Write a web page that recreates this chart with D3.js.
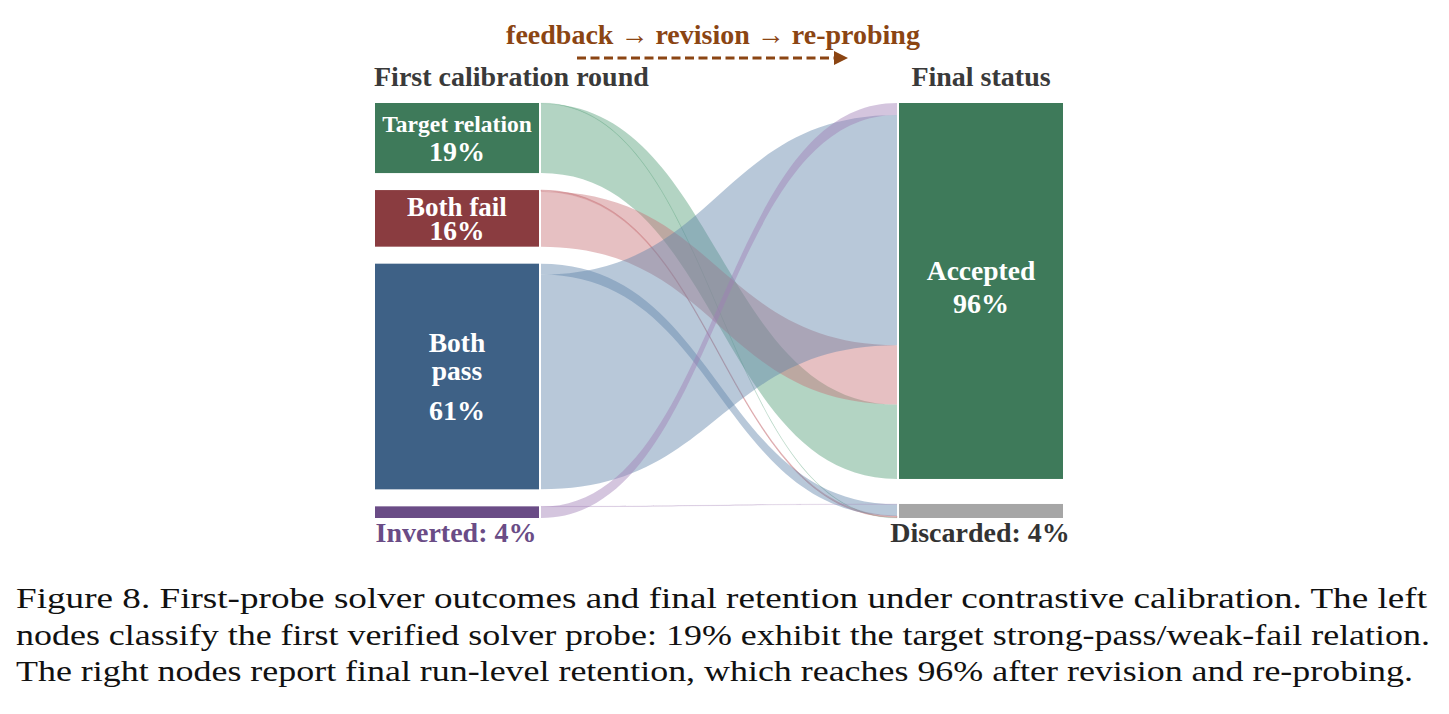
<!DOCTYPE html>
<html>
<head>
<meta charset="utf-8">
<script src="https://cdn.jsdelivr.net/npm/d3@7"></script>
<style>
  html, body { margin: 0; padding: 0; background: #fff; }
  svg { display: block; }
</style>
</head>
<body>
<svg id="chart" width="1449" height="714"></svg>
<script>
// ---------------- data ----------------
const leftNodes = ["Target relation", "Both fail", "Both pass", "Inverted"];
const leftPct = ["19%", "16%", "61%", "4%"];
const rightNodes = ["Accepted", "Discarded"];
const rightPct = ["96%", "4%"];
// flow values (percent of runs) from each left node
const toAccepted = [19.1, 15.2, 59.0, 3.1];
const toDiscarded = [0.15, 0.35, 3.0, 0.1];
const flowTitle = "feedback \u2192 revision \u2192 re-probing";
const leftTitle = "First calibration round";
const rightTitle = "Final status";
const captionLines = [
  "Figure 8. First-probe solver outcomes and final retention under contrastive calibration. The left",
  "nodes classify the first verified solver probe: 19% exhibit the target strong-pass/weak-fail relation.",
  "The right nodes report final run-level retention, which reaches 96% after revision and re-probing."
];

// ---------------- styles ----------------
const nodeColors = ["#3e7a5a", "#8a3c40", "#3e6186", "#6a4c86"];
const linkColors = ["#569f7a", "#c77377", "#6185ab", "#9f7eb6"];
const rightColors = ["#3e7a5a", "#a6a6a6"];
const serif = "'Liberation Serif', 'Times New Roman', Times, serif";

const svg = d3.select("#chart");

const yTop = 103, yBottom = 518;
const padL = 17, padR = 25;
const lx0 = 375, lx1 = 539, rx0 = 899, rx1 = 1063;
const linkX0 = 541, linkX1 = 897;

const leftTotals = leftNodes.map((_, i) => toAccepted[i] + toDiscarded[i]);
const rightTotals = [d3.sum(toAccepted), d3.sum(toDiscarded)];

const kL = d3.scaleLinear().domain([0, d3.sum(leftTotals)])
  .range([0, (yBottom - yTop) - padL * (leftNodes.length - 1)]);
const kR = d3.scaleLinear().domain([0, d3.sum(rightTotals)])
  .range([0, (yBottom - yTop) - padR * (rightNodes.length - 1)]);

// node positions
const leftPos = [];
let yy = yTop;
leftTotals.forEach((v) => {
  const h = kL(v);
  leftPos.push({ y0: yy, y1: yy + h });
  yy += h + padL;
});
const rightPos = [];
yy = yTop;
rightTotals.forEach((v) => {
  const h = kR(v);
  rightPos.push({ y0: yy, y1: yy + h });
  yy += h + padR;
});

// links: at source, discarded link sits on top then accepted
const links = [];
leftNodes.forEach((_, i) => {
  let sy = leftPos[i].y0;
  const dH = kL(toDiscarded[i]);
  links.push({ s: i, t: 1, v: toDiscarded[i], sy0: sy, sy1: sy + dH });
  sy += dH;
  links.push({ s: i, t: 0, v: toAccepted[i], sy0: sy, sy1: sy + kL(toAccepted[i]) });
});
// at target: order inverted, both pass, both fail, target relation
[0, 1].forEach(t => {
  let ty = rightPos[t].y0;
  [3, 2, 1, 0].forEach(s => {
    const l = links.find(d => d.s === s && d.t === t);
    const h = kR(l.v);
    l.ty0 = ty; l.ty1 = ty + h;
    ty += h;
  });
});

function linkPath(l) {
  const xm = (linkX0 + linkX1) / 2;
  const p = d3.path();
  p.moveTo(linkX0, l.sy0);
  p.bezierCurveTo(xm, l.sy0, xm, l.ty0, linkX1, l.ty0);
  p.lineTo(linkX1, l.ty1);
  p.bezierCurveTo(xm, l.ty1, xm, l.sy1, linkX0, l.sy1);
  p.closePath();
  return p.toString();
}

svg.append("g").selectAll("path").data(links).join("path")
  .attr("d", linkPath)
  .attr("fill", d => linkColors[d.s])
  .attr("fill-opacity", 0.45)
  .attr("stroke", d => linkColors[d.s])
  .attr("stroke-opacity", d => d.v < 1 ? (d.s === 1 ? 0.55 : 0.2) : 0)
  .attr("stroke-width", 0.6);

// nodes
svg.append("g").selectAll("rect").data(leftPos).join("rect")
  .attr("x", lx0).attr("width", lx1 - lx0)
  .attr("y", d => d.y0).attr("height", d => d.y1 - d.y0)
  .attr("fill", (d, i) => nodeColors[i]);
svg.append("g").selectAll("rect").data(rightPos).join("rect")
  .attr("x", rx0).attr("width", rx1 - rx0)
  .attr("y", d => d.y0).attr("height", d => d.y1 - d.y0)
  .attr("fill", (d, i) => rightColors[i]);

function txt(x, y, s, size, color, anchor) {
  return svg.append("text").attr("x", x).attr("y", y).text(s)
    .attr("font-family", serif).attr("font-weight", "bold")
    .attr("font-size", size).attr("fill", color)
    .attr("text-anchor", anchor || "middle");
}

const lcx = (lx0 + lx1) / 2, rcx = (rx0 + rx1) / 2;
const cy = i => (leftPos[i].y0 + leftPos[i].y1) / 2;
// left labels
txt(lcx, cy(0) - 6, leftNodes[0], 23.5, "#fff");
txt(lcx, cy(0) + 23, leftPct[0], 28, "#fff");
txt(lcx, cy(1) - 2, leftNodes[1], 27, "#fff");
txt(lcx, cy(1) + 22, leftPct[1], 27.5, "#fff");
const bp = leftNodes[2].split(" ");
txt(lcx, cy(2) - 25, bp[0], 27.5, "#fff");
txt(lcx, cy(2) + 3, bp[1], 27.5, "#fff");
txt(lcx, cy(2) + 43, leftPct[2], 28, "#fff");
txt(lcx - 1, 542, leftNodes[3] + ": " + leftPct[3], 28, nodeColors[3]);
// right labels
const rcy = (rightPos[0].y0 + rightPos[0].y1) / 2;
txt(rcx, rcy - 11, rightNodes[0], 27.5, "#fff");
txt(rcx, rcy + 22, rightPct[0], 28, "#fff");
txt(rcx - 1, 542, rightNodes[1] + ": " + rightPct[1], 28, "#333");

// column titles
txt(374, 86, leftTitle, 28, "#3a3a3a", "start");
txt(rcx, 86, rightTitle, 28, "#3a3a3a");

// flow title and arrow
const brown = "#8b4513";
txt(713, 44, flowTitle, 28, brown);
svg.append("line").attr("x1", 577).attr("x2", 836).attr("y1", 58).attr("y2", 58)
  .attr("stroke", brown).attr("stroke-width", 2.8).attr("stroke-dasharray", "9,4.5");
svg.append("path").attr("d", "M834,51 L848,58 L834,65 Z").attr("fill", brown);

// caption
const capLens = [1411, 1414, 1397];
captionLines.forEach((s, i) => {
  svg.append("text").attr("x", 16).attr("y", 608 + i * 36.5).text(s)
    .attr("font-family", serif).attr("font-size", 30).attr("fill", "#111")
    .attr("textLength", capLens[i]).attr("lengthAdjust", "spacingAndGlyphs");
});
</script>
</body>
</html>
